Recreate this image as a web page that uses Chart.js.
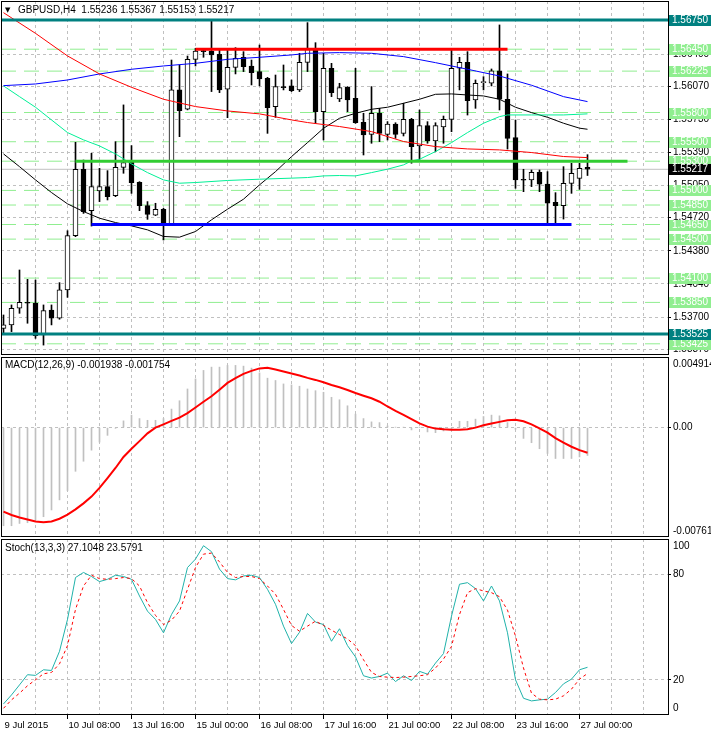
<!DOCTYPE html>
<html>
<head>
<meta charset="utf-8">
<script src="https://cdn.jsdelivr.net/npm/chart.js@4.4.1/dist/chart.umd.min.js"></script>
<style>
html,body{margin:0;padding:0;background:#fff;overflow:hidden;}
.panel{position:absolute;left:0;width:711px;}
</style>
</head>
<body>
<div class="panel" style="top:0;height:356px"><canvas id="cMain"></canvas></div>
<div class="panel" style="top:356px;height:182px"><canvas id="cMacd"></canvas></div>
<div class="panel" style="top:538px;height:195px"><canvas id="cStoch"></canvas></div>
<script>
const FONT = '"Liberation Sans", Arial, sans-serif';
const X_MIN = -0.3125, X_MAX = 83.0625;

// ---- time axis ----
const xGridIdx = [0,4,8,12,16,20,24,28,32,36,40,44,48,52,56,60,64,68,72,76,80];
const xLabelIdx = [0,8,16,24,32,40,48,56,64,72];
const xLabels = ['9 Jul 2015','10 Jul 08:00','13 Jul 16:00','15 Jul 00:00','16 Jul 08:00','17 Jul 16:00','21 Jul 00:00','22 Jul 08:00','23 Jul 16:00','27 Jul 00:00'];

// ---- GBPUSD H4 candles ----
const symbol = 'GBPUSD', timeframe = 'H4';
const open = [1.53584,1.53619,1.53790,1.53851,1.53841,1.53515,1.53772,1.53687,1.53978,1.54535,
1.55217,1.54792,1.54994,1.55039,1.54946,1.55237,1.55288,1.55083,1.54844,1.54747,
1.54806,1.54644,1.56032,1.55834,1.56346,1.56432,1.56432,1.56398,1.56039,1.56264,
1.56367,1.56278,1.56220,1.56151,1.55861,1.56059,1.56073,1.56032,1.56315,1.56449,
1.55808,1.56254,1.55939,1.56059,1.55946,1.55699,1.55576,1.55792,1.55576,1.55682,
1.55586,1.55730,1.55456,1.55665,1.55508,1.55651,1.55730,1.56254,1.56315,1.55929,
1.56107,1.56100,1.56227,1.55936,1.55542,1.55114,1.55107,1.55186,1.55066,1.54878,
1.54844,1.55073,1.55124,1.55236];
const high = [1.53721,1.53824,1.54183,1.54087,1.54080,1.53824,1.53824,1.54053,1.54586,1.55494,
1.55312,1.55381,1.55227,1.55203,1.55501,1.55878,1.55460,1.55090,1.54885,1.54868,
1.54816,1.56339,1.56288,1.56380,1.56459,1.56459,1.56743,1.56442,1.56459,1.56466,
1.56425,1.56339,1.56493,1.56161,1.56185,1.56288,1.56134,1.56408,1.56723,1.56517,
1.56408,1.56305,1.56100,1.56066,1.56254,1.55792,1.56066,1.55843,1.55706,1.55695,
1.55895,1.55740,1.55826,1.55706,1.55695,1.55764,1.56459,1.56367,1.56425,1.56134,
1.56168,1.56247,1.56699,1.56196,1.55723,1.55217,1.55210,1.55210,1.55193,1.54977,
1.55244,1.55278,1.55278,1.55367];
const low = [1.53532,1.53550,1.53738,1.53636,1.53481,1.53412,1.53619,1.53677,1.53902,1.54525,
1.54764,1.54634,1.54885,1.54902,1.54936,1.55176,1.54970,1.54792,1.54703,1.54741,
1.54491,1.54638,1.55552,1.55827,1.56278,1.56367,1.56015,1.56004,1.55747,1.56196,
1.56220,1.56083,1.56073,1.55586,1.55750,1.56032,1.56015,1.56015,1.56220,1.55689,
1.55518,1.55963,1.55912,1.55808,1.55689,1.55364,1.55484,1.55501,1.55518,1.55535,
1.55559,1.55279,1.55319,1.55484,1.55398,1.55484,1.55603,1.56032,1.55774,1.55843,
1.56032,1.56073,1.55826,1.55425,1.55022,1.54987,1.55039,1.54987,1.54645,1.54669,
1.54706,1.54970,1.55011,1.55153];
const close = [1.53619,1.53790,1.53851,1.53841,1.53508,1.53766,1.53687,1.53978,1.54535,1.55217,
1.54782,1.55039,1.55039,1.54936,1.55237,1.55285,1.55080,1.54844,1.54754,1.54806,
1.54638,1.56032,1.55820,1.56346,1.56432,1.56425,1.56391,1.56032,1.56264,1.56356,
1.56271,1.56210,1.56144,1.55850,1.56066,1.56055,1.56025,1.56315,1.56449,1.55808,
1.56254,1.56004,1.56055,1.55929,1.55695,1.55569,1.55792,1.55586,1.55682,1.55576,
1.55730,1.55449,1.55665,1.55511,1.55665,1.55730,1.56254,1.56315,1.55922,1.56100,
1.56114,1.56227,1.55936,1.55535,1.55107,1.55104,1.55186,1.55063,1.54868,1.54844,
1.55073,1.55176,1.55227,1.55217];

// ---- price axis ----
const priceTicks = [1.56400,1.56070,1.55730,1.55390,1.55050,1.54720,1.54380,1.54040,1.53700,1.53370];
const priceMin = 1.53310, priceMax = 1.56945;

// ---- moving averages (bar index, value) ----
const maRedIdx = [0,4,8,12,16,20,24,28,32,36,38,42,46,50,54,58,62,66,70,73];
const maRedVal = [1.56825,1.56613,1.56381,1.56196,1.56059,1.55936,1.55861,1.55816,1.55786,1.55724,1.55697,1.55656,1.55604,1.55502,1.55450,1.55426,1.55416,1.55389,1.55348,1.55337];
const maBlueIdx = [0,4,8,12,16,20,24,28,32,36,38,42,46,50,54,58,62,66,70,73];
const maBlueVal = [1.56076,1.56093,1.56134,1.56196,1.56244,1.56278,1.56305,1.56346,1.56367,1.56391,1.56408,1.56415,1.56408,1.56374,1.56312,1.56244,1.56175,1.56080,1.55963,1.55912];
const maGreenIdx = [0,2,4,6,8,10,12,14,16,18,20,22,24,28,32,36,38,40,42,44,46,48,50,51,52,54,56,58,60,62,63,66,70,73];
const maGreenVal = [1.56073,1.55963,1.55854,1.55724,1.55594,1.55519,1.55457,1.55375,1.55272,1.55183,1.55108,1.55074,1.55081,1.55102,1.55115,1.55126,1.55132,1.55149,1.55153,1.55149,1.55183,1.55218,1.55262,1.55303,1.55320,1.55399,1.55491,1.55594,1.55690,1.55758,1.55775,1.55775,1.55775,1.55786];
const maBlackIdx = [0,2,4,6,8,10,12,14,16,18,20,22,24,26,28,30,32,34,36,38,40,42,44,46,48,50,52,54,56,58,60,62,64,66,68,70,72,73];
const maBlackVal = [1.55375,1.55244,1.55108,1.54978,1.54862,1.54783,1.54715,1.54670,1.54636,1.54595,1.54527,1.54520,1.54578,1.54698,1.54807,1.54910,1.55057,1.55193,1.55347,1.55491,1.55638,1.55741,1.55792,1.55833,1.55854,1.55895,1.55936,1.55987,1.55991,1.55980,1.55970,1.55936,1.55854,1.55799,1.55751,1.55690,1.55639,1.55628];

// ---- drawn objects ----
const greenLevels = [1.56450,1.56225,1.55800,1.55500,1.55300,1.55000,1.54850,1.54650,1.54500,1.54100,1.53850,1.53425];
const tealLevels = [1.56750,1.53525];
const lastPrice = 1.55217;
const resistLevel = 1.5645, resistSpan = [24, 63];
const pivotLevel = 1.5530, pivotSpan = [9, 78];
const supportLevel = 1.5465, supportSpan = [11, 71];

// ---- MACD(12,26,9) ----
const macdMain = [-0.00683,-0.00683,-0.00667,-0.00662,-0.00644,-0.00620,-0.00573,-0.00503,-0.00438,-0.00304,
-0.00234,-0.00157,-0.00101,-0.00054,-0.00005,0.00047,0.00087,0.00063,0.00051,0.00051,
0.00063,0.00129,0.00187,0.00269,0.00339,0.00398,0.00421,0.00421,0.00433,0.00433,
0.00428,0.00414,0.00381,0.00344,0.00328,0.00304,0.00297,0.00288,0.00269,0.00257,
0.00246,0.00211,0.00194,0.00152,0.00094,0.00063,0.00040,0.00035,0.00012,0.00002,
0.00002,-0.00016,0.00001,-0.00030,-0.00035,-0.00023,-0.00016,0.00044,0.00044,0.00059,
0.00077,0.00087,0.00082,0.00035,-0.00012,-0.00075,-0.00105,-0.00147,-0.00180,-0.00215,
-0.00215,-0.00215,-0.00204,-0.001938];
const macdSignal = [-0.00585,-0.00608,-0.00625,-0.00639,-0.00653,-0.00658,-0.00653,-0.00634,-0.00606,-0.00569,
-0.00527,-0.00480,-0.00419,-0.00351,-0.00281,-0.00204,-0.00147,-0.00094,-0.00040,0.00000,
0.00023,0.00047,0.00070,0.00101,0.00140,0.00180,0.00218,0.00264,0.00311,0.00344,
0.00374,0.00395,0.00412,0.00417,0.00405,0.00391,0.00377,0.00363,0.00346,0.00332,
0.00316,0.00297,0.00281,0.00262,0.00241,0.00222,0.00204,0.00180,0.00147,0.00117,
0.00089,0.00059,0.00030,0.00007,-0.00007,-0.00012,-0.00014,-0.00014,-0.00012,0.00000,
0.00016,0.00028,0.00040,0.00051,0.00054,0.00044,0.00023,-0.00005,-0.00035,-0.00073,
-0.00105,-0.00133,-0.00157,-0.001754];
const macdMax = 0.004914, macdMin = -0.007612;
const macdTicks = [0];

// ---- Stochastic(13,3,3) ----
const stochMain = [6.3,11.4,17.1,22.9,22.5,25.7,25.3,36.2,54.3,78.1,
81.0,78.7,75.8,77.1,79.4,78.7,77.1,67.6,59.0,54.3,
46.7,57.1,64.8,83.8,88.6,96.2,92.8,82.9,77.5,76.8,
79.0,79.4,78.1,71.4,62.9,50.5,40.6,47.0,57.7,52.8,
51.4,41.9,49.0,39.4,33.0,22.3,21.0,21.9,23.8,19.0,
22.3,19.6,24.8,23.2,29.5,34.9,56.2,74.3,75.2,71.8,
64.8,73.3,64.8,46.7,20.0,9.5,8.0,8.6,9.0,12.8,
17.7,20.4,25.7,27.1048];
const stochSignal = [3.8,8.6,12.4,16.6,20.0,23.4,24.2,29.1,39.4,60.0,
73.3,79.4,77.5,77.1,77.5,78.1,77.5,73.3,63.8,56.6,
51.4,53.9,59.0,71.4,83.8,91.4,92.0,87.0,81.0,78.1,
78.7,78.7,77.5,73.3,68.6,60.0,50.9,47.6,50.5,53.3,
50.9,48.2,45.7,43.2,39.4,31.4,24.2,21.9,21.5,21.3,
21.5,21.9,22.3,22.9,26.7,31.8,39.0,57.1,69.5,71.8,
70.5,69.5,67.2,59.6,44.8,26.7,12.4,9.0,8.6,9.0,
10.9,14.7,20.4,23.5791];
const stochTicks = [20, 80];

// ================= rendering =================
Chart.defaults.font.family = FONT;
Chart.defaults.font.size = 10;
Chart.defaults.color = '#000';
Chart.defaults.animation = false;
Chart.defaults.plugins.legend.display = false;
Chart.defaults.plugins.tooltip.enabled = false;

const bars = open.map((_, i) => i);
const pts = (xs, ys) => xs.map((x, i) => ({ x, y: ys[i] }));
const hline = v => [{ x: X_MIN, y: v }, { x: X_MAX, y: v }];
const seg = (span, v) => [{ x: span[0], y: v }, { x: span[1], y: v }];
const lineDs = (data, color, width, order, dash) => ({
  type: 'line', data, borderColor: color, borderWidth: width, borderDash: dash || [],
  pointRadius: 0, tension: 0, fill: false, order
});

function xScale(withLabels) {
  return {
    type: 'linear', min: X_MIN, max: X_MAX, offset: false, position: 'bottom',
    afterBuildTicks: s => { s.ticks = xGridIdx.map(v => ({ value: v })); },
    afterFit: s => { s.height = withLabels ? 18 : 0; s.paddingLeft = 0; s.paddingRight = 0; s.paddingTop = 0; s.paddingBottom = 0; },
    grid: {
      offset: false,
      color: c => (c.tick && c.tick.value === 0) ? 'rgba(0,0,0,0)' : '#C0C0C0',
      drawTicks: withLabels, tickLength: 4, tickWidth: 1,
      tickColor: c => (c.tick && c.tick.value !== 0 && xLabelIdx.indexOf(c.tick.value) >= 0) ? '#000' : 'rgba(0,0,0,0)'
    },
    border: { display: false, dash: [3, 3] },
    ticks: {
      display: withLabels, autoSkip: false, maxRotation: 0, minRotation: 0, align: 'start', padding: 1, labelOffset: 1,
      color: '#000', font: { family: FONT, size: 9.5 },
      callback: v => { const k = xLabelIdx.indexOf(v); return k >= 0 ? xLabels[k] : ''; }
    }
  };
}
function yScale(min, max, ticks, fmt) {
  return {
    type: 'linear', position: 'right', min, max, beginAtZero: false,
    afterBuildTicks: s => { s.ticks = ticks.map(v => ({ value: v })); },
    afterFit: s => { s.width = 43; s.paddingTop = 0; s.paddingBottom = 0; s.paddingLeft = 0; s.paddingRight = 0; },
    grid: { color: '#C0C0C0', drawTicks: true, tickLength: 3, tickColor: '#000' },
    border: { display: false, dash: [3, 3] },
    ticks: { autoSkip: false, padding: 2, color: '#000', font: { family: FONT, size: 10 }, callback: fmt }
  };
}
function decor(extra) {
  return {
    id: 'decor',
    afterDraw(chart) {
      const { ctx, chartArea: a } = chart;
      ctx.save();
      ctx.strokeStyle = '#000'; ctx.lineWidth = 1;
      ctx.strokeRect(a.left + 0.5, a.top + 0.5, a.right - a.left, a.bottom - a.top - 1);
      ctx.textBaseline = 'middle'; ctx.textAlign = 'left';
      extra(chart, ctx, a);
      ctx.restore();
    }
  };
}
const baseOptions = (pad, scales) => ({
  responsive: true, maintainAspectRatio: false,
  layout: { autoPadding: false, padding: pad },
  scales
});

// ---- main price chart ----
const mainDatasets = [];
greenLevels.forEach(v => mainDatasets.push(lineDs(hline(v), '#90EE90', 1, 30, [15, 8])));
mainDatasets.push(lineDs(hline(lastPrice), '#C0C0C0', 1, 29));
mainDatasets.push({
  type: 'bar', data: bars.map(i => ({ x: i, y: [low[i], high[i]] })),
  backgroundColor: '#000', borderWidth: 0, barThickness: 1, maxBarThickness: 1, grouped: false, order: 20
});
mainDatasets.push({
  type: 'bar', data: bars.map(i => ({ x: i, y: [open[i], close[i]] })),
  backgroundColor: bars.map(i => close[i] >= open[i] ? '#FFFFFF' : '#000000'),
  borderColor: '#000', borderWidth: 1, borderSkipped: false, minBarLength: 1,
  barThickness: 5, maxBarThickness: 5, grouped: false, order: 19
});
mainDatasets.push(lineDs(pts(maRedIdx, maRedVal), '#FF0000', 1, 12));
mainDatasets.push(lineDs(pts(maBlueIdx, maBlueVal), '#0000FF', 1, 12));
mainDatasets.push(lineDs(pts(maGreenIdx, maGreenVal), '#00F096', 1, 12));
mainDatasets.push(lineDs(pts(maBlackIdx, maBlackVal), '#000000', 1, 12));
mainDatasets.push(lineDs(seg(resistSpan, resistLevel), '#FF0000', 3, 5));
mainDatasets.push(lineDs(seg(pivotSpan, pivotLevel), '#32CD32', 3, 5));
mainDatasets.push(lineDs(seg(supportSpan, supportLevel), '#0000FF', 3, 5));
tealLevels.forEach(v => mainDatasets.push(lineDs(hline(v), '#008080', 3, 4)));

new Chart(document.getElementById('cMain'), {
  type: 'line',
  data: { datasets: mainDatasets },
  options: baseOptions({ left: 1, top: 1, right: 0, bottom: 1 },
    { x: xScale(false), y: yScale(priceMin, priceMax, priceTicks, v => v.toFixed(5)) }),
  plugins: [decor((chart, ctx) => {
    const y = chart.scales.y;
    const n = open.length - 1;
    ctx.fillStyle = '#000';
    ctx.font = '7px "DejaVu Sans"';
    ctx.fillText('\u25BC', 5, 10);
    ctx.font = '10px ' + FONT;
    ctx.fillText(symbol + ',' + timeframe + '  ' + [open[n], high[n], low[n], close[n]].map(v => v.toFixed(5)).join(' '), 18, 10);
    const box = (v, bg, fg) => {
      const py = Math.round(y.getPixelForValue(v));
      ctx.fillStyle = bg; ctx.fillRect(669, py - 5, 42, 11);
      ctx.fillStyle = fg; ctx.fillText(v.toFixed(5), 672, py + 0.5);
    };
    greenLevels.forEach(v => box(v, '#90EE90', '#FFFFFF'));
    tealLevels.forEach(v => box(v, '#008080', '#FFFFFF'));
    box(lastPrice, '#000000', '#FFFFFF');
  })]
});

// ---- MACD ----
new Chart(document.getElementById('cMacd'), {
  type: 'line',
  data: { datasets: [
    { type: 'bar', data: bars.map(i => ({ x: i, y: macdMain[i] })), backgroundColor: '#C0C0C0', borderWidth: 0,
      barThickness: 1, maxBarThickness: 1, grouped: false, order: 10 },
    lineDs(bars.map(i => ({ x: i, y: macdSignal[i] })), '#FF0000', 2, 5)
  ] },
  options: baseOptions({ left: 1, top: 1, right: 0, bottom: 1 },
    { x: xScale(false), y: yScale(macdMin, macdMax, macdTicks, v => v.toFixed(2)) }),
  plugins: [decor((chart, ctx, a) => {
    const n = macdMain.length - 1;
    ctx.fillStyle = '#000';
    ctx.font = '10px ' + FONT;
    ctx.fillText('MACD(12,26,9) ' + macdMain[n].toFixed(6) + ' ' + macdSignal[n].toFixed(6), 5, a.top + 8);
    ctx.fillText(macdMax.toFixed(6), 673, a.top + 7);
    ctx.fillText(macdMin.toFixed(6), 673, a.bottom - 6);
  })]
});

// ---- Stochastic ----
new Chart(document.getElementById('cStoch'), {
  type: 'line',
  data: { datasets: [
    lineDs(bars.map(i => ({ x: i, y: stochMain[i] })), '#20B2AA', 1, 6),
    lineDs(bars.map(i => ({ x: i, y: stochSignal[i] })), '#FF0000', 1, 5, [3, 3])
  ] },
  options: baseOptions({ left: 1, top: 1, right: 0, bottom: 0 },
    { x: xScale(true), y: yScale(0, 100, stochTicks, v => String(v)) }),
  plugins: [decor((chart, ctx, a) => {
    const n = stochMain.length - 1;
    ctx.fillStyle = '#000';
    ctx.font = '10px ' + FONT;
    ctx.fillText('Stoch(13,3,3) ' + stochMain[n].toFixed(4) + ' ' + stochSignal[n].toFixed(4), 5, a.top + 9);
    ctx.fillText('100', 673, a.top + 7);
    ctx.fillText('0', 673, a.bottom - 7);
  })]
});
</script>
</body>
</html>
